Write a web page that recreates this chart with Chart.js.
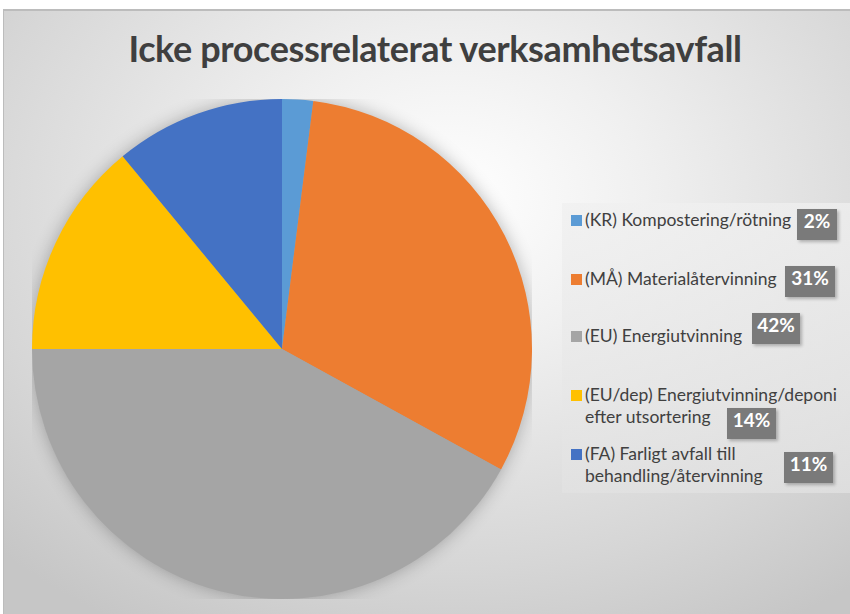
<!DOCTYPE html>
<html>
<head>
<meta charset="utf-8">
<script src="https://cdn.jsdelivr.net/npm/chart.js@4/dist/chart.umd.min.js"></script>
<style>
  html, body { margin: 0; padding: 0; background: #fff; width: 850px; height: 614px; overflow: hidden; }
  #frame {
    position: absolute; left: 3px; top: 9px; width: 860px; height: 620px;
    border-top: 2px solid #bcbcbc; border-left: 1px solid #bcbcbc;
    background: radial-gradient(ellipse 75% 80% at 52% 30%, #ffffff 0%, #f0f0f0 30%, #d6d6d6 75%, #c6c6c6 100%);
  }
  #title {
    position: absolute; left: 0; width: 870px; top: 26px; text-align: center;
    font: bold 36px Lato, sans-serif; color: #3f3f3f; letter-spacing: -0.4px;
  }
  #pieWrap { position: absolute; left: 32px; top: 99px; width: 500px; height: 500px; }
  #legendBox {
    position: absolute; left: 562px; top: 203px; width: 300px; height: 290px;
    background: linear-gradient(180deg, rgba(240,240,240,0.75), rgba(226,226,226,0.75));
  }
  .item { position: absolute; left: 571px; font: 17.5px Lato, sans-serif; color: #404040; line-height: 22px; }
  .item .sw { position: absolute; left: 0; top: 6px; width: 11px; height: 11px; }
  .item .tx { margin-left: 14px; white-space: nowrap; }
  .pct {
    position: absolute; height: 31px; line-height: 34px; text-align: center;
    font: bold 19px Lato, sans-serif; color: #fff;
    background: #7a7a7a; box-shadow: 2px 2px 3px rgba(0,0,0,0.25);
  }
</style>
</head>
<body>
<div id="frame"></div>
<div id="title">Icke processrelaterat verksamhetsavfall</div>
<div id="pieWrap"><canvas id="pieChart"></canvas></div>
<div id="legendBox"></div>
<div id="legend"></div>
<script>
const COLORS = {
  kr:  '#5B9BD5',
  ma:  '#ED7D31',
  eu:  '#A5A5A5',
  dep: '#FFC000',
  fa:  '#4472C4',
};

const labels = [
  ['(KR) Kompostering/rötning'],
  ['(MÅ) Materialåtervinning'],
  ['(EU) Energiutvinning'],
  ['(EU/dep) Energiutvinning/deponi', 'efter utsortering'],
  ['(FA) Farligt avfall till', 'behandling/återvinning'],
];
const values = [2, 31, 42, 14, 11];
const colors = [COLORS.kr, COLORS.ma, COLORS.eu, COLORS.dep, COLORS.fa];

// legend layout: text top, and the percentage box (left, top, width)
const legendLayout = [
  { textTop: 209, box: [797, 209, 40] },
  { textTop: 268, box: [785, 266, 50] },
  { textTop: 325, box: [752, 313, 48] },
  { textTop: 384, box: [727, 408, 49] },
  { textTop: 443, box: [784, 452, 49] },
];

// soft shadow under the whole pie
const pieShadow = {
  id: 'pieShadow',
  beforeDatasetsDraw(chart) {
    const arc = chart.getDatasetMeta(0).data[0];
    if (!arc) return;
    const ctx = chart.ctx;
    ctx.save();
    ctx.shadowColor = 'rgba(0,0,0,0.3)';
    ctx.shadowBlur = 18;
    ctx.fillStyle = '#a5a5a5';
    ctx.beginPath();
    ctx.arc(arc.x, arc.y, arc.outerRadius - 1, 0, Math.PI * 2);
    ctx.fill();
    ctx.restore();
  },
};

new Chart(document.getElementById('pieChart'), {
  type: 'pie',
  data: {
    labels: labels.map(l => l.join(' ')),
    datasets: [{
      data: values,
      backgroundColor: colors,
      borderWidth: 0,
    }],
  },
  options: {
    responsive: true,
    maintainAspectRatio: false,
    animation: false,
    layout: { padding: 0 },
    plugins: {
      legend: { display: false },
      tooltip: { enabled: false },
    },
  },
  plugins: [pieShadow],
});

// legend
const total = values.reduce((a, b) => a + b, 0);
const legend = document.getElementById('legend');
labels.forEach((lines, i) => {
  const item = document.createElement('div');
  item.className = 'item';
  item.style.top = legendLayout[i].textTop + 'px';
  item.innerHTML = `<span class="sw" style="background:${colors[i]}"></span>` +
    lines.map(t => `<div class="tx">${t}</div>`).join('');
  legend.appendChild(item);

  const [bx, by, bw] = legendLayout[i].box;
  const pct = document.createElement('div');
  pct.className = 'pct';
  pct.style.left = bx + 'px';
  pct.style.top = by + 'px';
  pct.style.width = bw + 'px';
  pct.textContent = Math.round(values[i] / total * 100) + '%';
  legend.appendChild(pct);
});
</script>
</body>
</html>
